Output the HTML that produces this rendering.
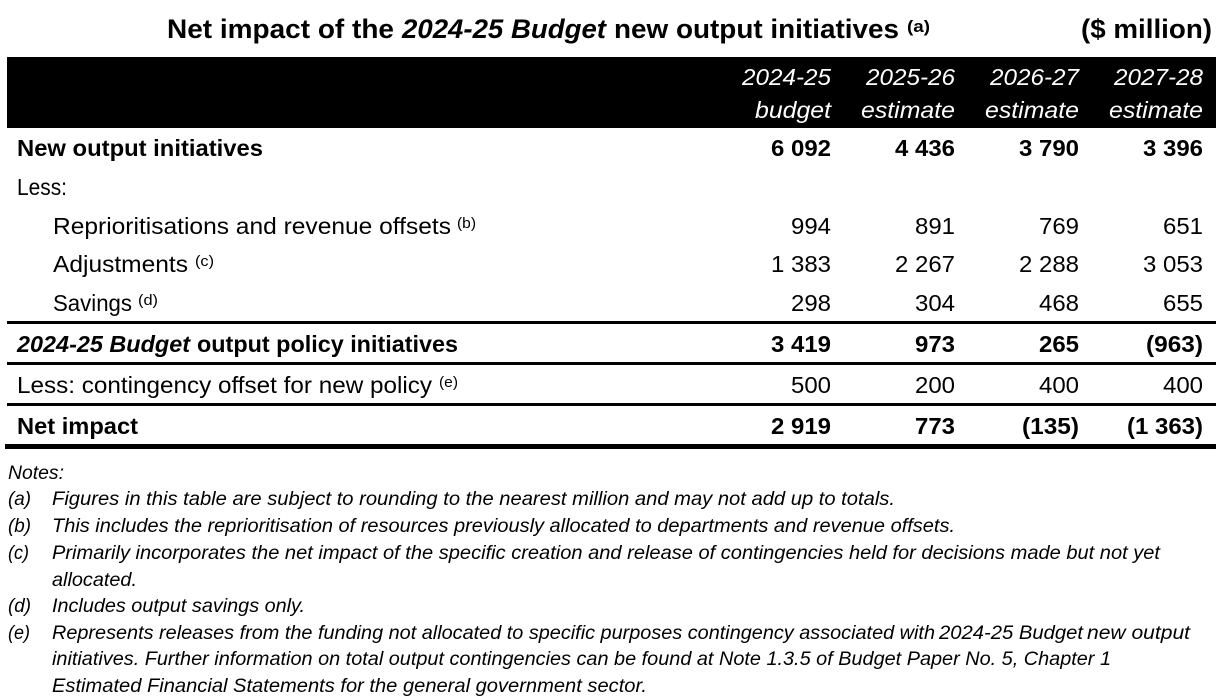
<!DOCTYPE html>
<html lang="en">
<head>
<meta charset="utf-8">
<title>Net impact of the 2024-25 Budget new output initiatives</title>
<style>
html,body{margin:0;padding:0;background:#fff;width:1216px;height:697px;overflow:hidden}
svg{display:block}
text{font-family:"Liberation Sans",sans-serif;fill:#000;white-space:pre}
.t{font-size:27px;font-weight:700}
.b{font-size:23.5px}
.bb{font-size:23.5px;font-weight:700}
.i{font-style:italic}
.h{font-size:23.5px;font-style:italic;fill:#fff}
.s{font-size:15px}
.ts{font-size:17px;font-weight:700}
.n{font-size:19.5px}
</style>
</head>
<body>
<svg width="1216" height="697" viewBox="0 0 1216 697">
<g>
<text class="t" x="167" y="38" textLength="227" lengthAdjust="spacingAndGlyphs">Net impact of the</text>
<text class="t i" x="402" y="38" textLength="204" lengthAdjust="spacingAndGlyphs">2024-25 Budget</text>
<text class="t" x="614" y="38" textLength="285" lengthAdjust="spacingAndGlyphs">new output initiatives</text>
<text class="ts" x="907" y="32" textLength="23" lengthAdjust="spacingAndGlyphs">(a)</text>
<text class="t" x="1081" y="38" textLength="131" lengthAdjust="spacingAndGlyphs">($ million)</text>
</g>
<rect x="7" y="57" width="1209" height="71" fill="#000"/>
<g text-anchor="end">
<text class="h" x="831" y="85" textLength="89" lengthAdjust="spacingAndGlyphs">2024-25</text>
<text class="h" x="955" y="85" textLength="89" lengthAdjust="spacingAndGlyphs">2025-26</text>
<text class="h" x="1079" y="85" textLength="89" lengthAdjust="spacingAndGlyphs">2026-27</text>
<text class="h" x="1203" y="85" textLength="89" lengthAdjust="spacingAndGlyphs">2027-28</text>
<text class="h" x="831" y="118" textLength="76" lengthAdjust="spacingAndGlyphs">budget</text>
<text class="h" x="955" y="118" textLength="94" lengthAdjust="spacingAndGlyphs">estimate</text>
<text class="h" x="1079" y="118" textLength="94" lengthAdjust="spacingAndGlyphs">estimate</text>
<text class="h" x="1203" y="118" textLength="94" lengthAdjust="spacingAndGlyphs">estimate</text>
</g>
<g>
<text class="bb" x="17" y="156" textLength="246" lengthAdjust="spacingAndGlyphs">New output initiatives</text>
<text class="b" x="17" y="195" textLength="50" lengthAdjust="spacingAndGlyphs">Less:</text>
<text class="b" x="53" y="234" textLength="398" lengthAdjust="spacingAndGlyphs">Reprioritisations and revenue offsets</text>
<text class="s" x="457" y="228" textLength="19" lengthAdjust="spacingAndGlyphs">(b)</text>
<text class="b" x="53" y="272" textLength="135" lengthAdjust="spacingAndGlyphs">Adjustments</text>
<text class="s" x="195" y="266" textLength="19" lengthAdjust="spacingAndGlyphs">(c)</text>
<text class="b" x="53" y="311" textLength="79" lengthAdjust="spacingAndGlyphs">Savings</text>
<text class="s" x="138" y="305" textLength="20" lengthAdjust="spacingAndGlyphs">(d)</text>
<text class="bb i" x="17" y="352" textLength="173" lengthAdjust="spacingAndGlyphs">2024-25 Budget</text>
<text class="bb" x="197" y="352" textLength="261" lengthAdjust="spacingAndGlyphs">output policy initiatives</text>
<text class="b" x="17" y="393" textLength="415" lengthAdjust="spacingAndGlyphs">Less: contingency offset for new policy</text>
<text class="s" x="439" y="387" textLength="19" lengthAdjust="spacingAndGlyphs">(e)</text>
<text class="bb" x="17" y="434" textLength="121" lengthAdjust="spacingAndGlyphs">Net impact</text>
</g>
<g text-anchor="end">
<text class="bb" x="831" y="156" textLength="60" lengthAdjust="spacingAndGlyphs">6 092</text>
<text class="bb" x="955" y="156" textLength="60" lengthAdjust="spacingAndGlyphs">4 436</text>
<text class="bb" x="1079" y="156" textLength="60" lengthAdjust="spacingAndGlyphs">3 790</text>
<text class="bb" x="1203" y="156" textLength="60" lengthAdjust="spacingAndGlyphs">3 396</text>
<text class="b" x="831" y="234" textLength="40" lengthAdjust="spacingAndGlyphs">994</text>
<text class="b" x="955" y="234" textLength="40" lengthAdjust="spacingAndGlyphs">891</text>
<text class="b" x="1079" y="234" textLength="40" lengthAdjust="spacingAndGlyphs">769</text>
<text class="b" x="1203" y="234" textLength="40" lengthAdjust="spacingAndGlyphs">651</text>
<text class="b" x="831" y="272" textLength="60" lengthAdjust="spacingAndGlyphs">1 383</text>
<text class="b" x="955" y="272" textLength="60" lengthAdjust="spacingAndGlyphs">2 267</text>
<text class="b" x="1079" y="272" textLength="60" lengthAdjust="spacingAndGlyphs">2 288</text>
<text class="b" x="1203" y="272" textLength="60" lengthAdjust="spacingAndGlyphs">3 053</text>
<text class="b" x="831" y="311" textLength="40" lengthAdjust="spacingAndGlyphs">298</text>
<text class="b" x="955" y="311" textLength="40" lengthAdjust="spacingAndGlyphs">304</text>
<text class="b" x="1079" y="311" textLength="40" lengthAdjust="spacingAndGlyphs">468</text>
<text class="b" x="1203" y="311" textLength="40" lengthAdjust="spacingAndGlyphs">655</text>
<text class="bb" x="831" y="352" textLength="60" lengthAdjust="spacingAndGlyphs">3 419</text>
<text class="bb" x="955" y="352" textLength="40" lengthAdjust="spacingAndGlyphs">973</text>
<text class="bb" x="1079" y="352" textLength="40" lengthAdjust="spacingAndGlyphs">265</text>
<text class="bb" x="1203" y="352" textLength="57" lengthAdjust="spacingAndGlyphs">(963)</text>
<text class="b" x="831" y="393" textLength="40" lengthAdjust="spacingAndGlyphs">500</text>
<text class="b" x="955" y="393" textLength="40" lengthAdjust="spacingAndGlyphs">200</text>
<text class="b" x="1079" y="393" textLength="40" lengthAdjust="spacingAndGlyphs">400</text>
<text class="b" x="1203" y="393" textLength="40" lengthAdjust="spacingAndGlyphs">400</text>
<text class="bb" x="831" y="434" textLength="60" lengthAdjust="spacingAndGlyphs">2 919</text>
<text class="bb" x="955" y="434" textLength="40" lengthAdjust="spacingAndGlyphs">773</text>
<text class="bb" x="1079" y="434" textLength="57" lengthAdjust="spacingAndGlyphs">(135)</text>
<text class="bb" x="1203" y="434" textLength="76" lengthAdjust="spacingAndGlyphs">(1 363)</text>
</g>
<g>
<rect x="7" y="321" width="1209" height="3" fill="#000"/>
<rect x="7" y="362" width="1209" height="3" fill="#000"/>
<rect x="7" y="403" width="1209" height="3" fill="#000"/>
<rect x="5" y="444" width="1211" height="5" fill="#000"/>
</g>
<g class="n i">
<text class="n i" x="8" y="479" textLength="56" lengthAdjust="spacingAndGlyphs">Notes:</text>
<text class="n i" x="8" y="505" textLength="23" lengthAdjust="spacingAndGlyphs">(a)</text>
<text class="n i" x="52" y="505" textLength="843" lengthAdjust="spacingAndGlyphs">Figures in this table are subject to rounding to the nearest million and may not add up to totals.</text>
<text class="n i" x="8" y="532" textLength="23" lengthAdjust="spacingAndGlyphs">(b)</text>
<text class="n i" x="52" y="532" textLength="903" lengthAdjust="spacingAndGlyphs">This includes the reprioritisation of resources previously allocated to departments and revenue offsets.</text>
<text class="n i" x="8" y="559" textLength="21" lengthAdjust="spacingAndGlyphs">(c)</text>
<text class="n i" x="52" y="559" textLength="1108" lengthAdjust="spacingAndGlyphs">Primarily incorporates the net impact of the specific creation and release of contingencies held for decisions made but not yet</text>
<text class="n i" x="52" y="586" textLength="85" lengthAdjust="spacingAndGlyphs">allocated.</text>
<text class="n i" x="8" y="612" textLength="23" lengthAdjust="spacingAndGlyphs">(d)</text>
<text class="n i" x="52" y="612" textLength="253" lengthAdjust="spacingAndGlyphs">Includes output savings only.</text>
<text class="n i" x="8" y="639" textLength="22" lengthAdjust="spacingAndGlyphs">(e)</text>
<text class="n i" x="52" y="639" textLength="883" lengthAdjust="spacingAndGlyphs">Represents releases from the funding not allocated to specific purposes contingency associated with</text>
<text class="n" x="939" y="639" textLength="144" lengthAdjust="spacingAndGlyphs">2024-25 Budget</text>
<text class="n i" x="1087" y="639" textLength="103" lengthAdjust="spacingAndGlyphs">new output</text>
<text class="n i" x="52" y="665" textLength="1059" lengthAdjust="spacingAndGlyphs">initiatives. Further information on total output contingencies can be found at Note 1.3.5 of Budget Paper No. 5, Chapter 1</text>
<text class="n" x="52" y="692" textLength="595" lengthAdjust="spacingAndGlyphs">Estimated Financial Statements for the general government sector.</text>
</g>
</svg>
</body>
</html>
